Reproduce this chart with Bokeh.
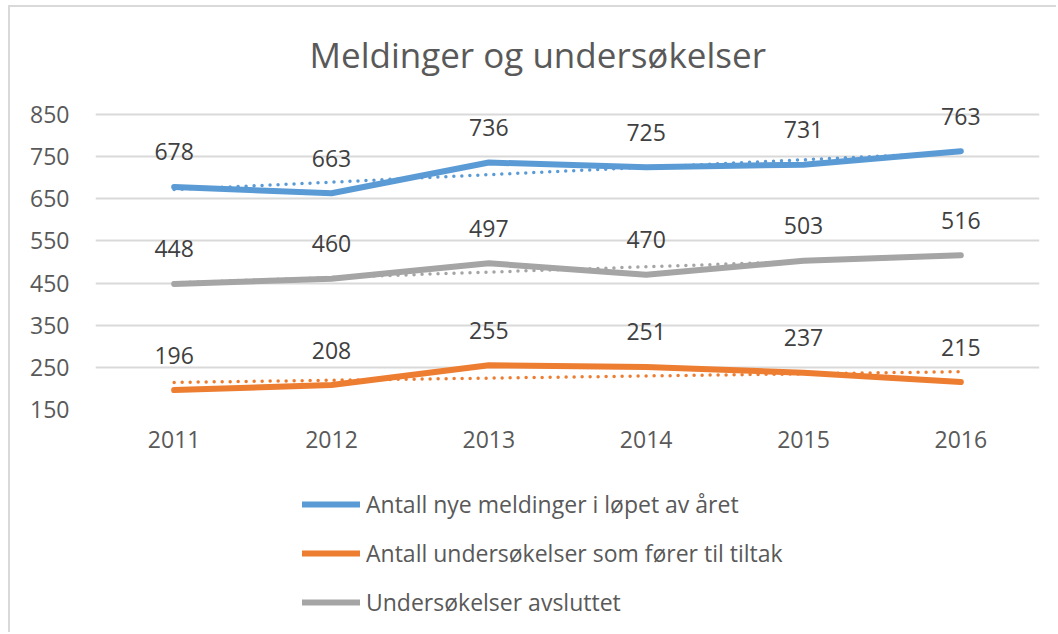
import numpy as np
from bokeh.plotting import figure
from bokeh.layouts import column
from bokeh.models import (ColumnDataSource, Range1d, FixedTicker, LabelSet,
                          Legend, LegendItem)
from bokeh.core.properties import value
from bokeh.embed import file_html
from bokeh.resources import INLINE

# ---- data ----
years = ["2011", "2012", "2013", "2014", "2015", "2016"]
meldinger = [678, 663, 736, 725, 731, 763]
tiltak = [196, 208, 255, 251, 237, 215]
avsluttet = [448, 460, 497, 470, 503, 516]
series_names = ["Antall nye meldinger i løpet av året",
                "Antall undersøkelser som fører til tiltak",
                "Undersøkelser avsluttet"]
y_ticks = [150, 250, 350, 450, 550, 650, 750, 850]
title_text = "Meldinger og undersøkelser"

colors = ["#5B9BD5", "#ED7D31", "#A5A5A5"]
FONT = "Open Sans"
TXT = "#595959"

# layout (pixels)
W = 1046
H1, H2 = 470, 155
frame_left, frame_right = 85, 1029
grid_top_px, frame_bottom = 107, 402      # pixel rows of the 850 and 150 gridlines
frame_top = 78                            # headroom so top data labels are not clipped
y0, y1 = y_ticks[0], y_ticks[-1]
units_per_px = (y1 - y0) / (frame_bottom - grid_top_px)
y_end = y1 + (grid_top_px - frame_top) * units_per_px

p = figure(x_range=years, y_range=Range1d(y0, y_end), width=W, height=H1,
           output_backend="svg", toolbar_location=None,
           min_border_left=frame_left, min_border_right=W - frame_right,
           min_border_top=frame_top, min_border_bottom=H1 - frame_bottom)
p.outline_line_color = None
p.background_fill_color = "white"
p.border_fill_color = "white"

p.title.text = title_text
p.title.text_font = FONT
p.title.text_font_size = "35px"
p.title.text_font_style = "normal"
p.title.text_color = TXT
p.title.align = "left"
p.title.offset = 214
p.title.standoff = 15

p.xgrid.grid_line_color = None
p.ygrid.grid_line_color = "#d9d9d9"
p.ygrid.grid_line_width = 2
p.yaxis.ticker = FixedTicker(ticks=y_ticks)

for ax in (p.xaxis[0], p.yaxis[0]):
    ax.axis_line_color = None
    ax.major_tick_line_color = None
    ax.minor_tick_line_color = None
    ax.major_tick_in = 0
    ax.major_tick_out = 0
    ax.major_label_text_font = FONT
    ax.major_label_text_font_size = "23px"
    ax.major_label_text_color = TXT
p.yaxis.major_label_standoff = 26
p.xaxis.major_label_standoff = 21

# legend strip below the chart (its frame is aligned with the chart frame)
pl = figure(width=W, height=H2, x_range=Range1d(0, 1), y_range=Range1d(0, 1),
            output_backend="svg", toolbar_location=None,
            x_axis_location=None, y_axis_location=None,
            min_border=0, min_border_left=0, min_border_right=0,
            min_border_top=0, min_border_bottom=0)
pl.outline_line_color = None
pl.xgrid.visible = False
pl.ygrid.visible = False
pl.border_fill_color = "white"

xidx = np.arange(len(years))
items = []
for name, vals, col in zip(series_names, [meldinger, tiltak, avsluttet], colors):
    # linear trend line (as in the original chart's trendlines)
    a, b = np.polyfit(xidx, np.array(vals, dtype=float), 1)
    trend = a * xidx + b
    p.line(years, trend, line_color=col, line_width=3.5, line_dash="0 8",
           line_cap="round")
    src = ColumnDataSource(dict(x=years, y=vals, t=[str(v) for v in vals]))
    p.line("x", "y", source=src, line_color=col, line_width=6,
           line_cap="round", line_join="round")
    p.add_layout(LabelSet(x="x", y="y", text="t", source=src, y_offset=35,
                          text_align="center", text_baseline="middle",
                          text_font=value(FONT), text_font_size="23px",
                          text_color="#404040"))
    # legend proxy line, lying outside the visible range of the legend strip
    lr = pl.line(x=[-2, -1], y=[-2, -2], line_color=col, line_width=6,
                 line_cap="round")
    items.append(LegendItem(label=name, renderers=[lr]))

legend = Legend(items=items, location=(207, 14), orientation="vertical",
                glyph_width=58, glyph_height=30, label_height=30,
                spacing=17, padding=0, margin=0, label_standoff=6,
                label_text_font=FONT, label_text_font_size="23px",
                label_text_color=TXT, border_line_color=None,
                background_fill_alpha=0)
pl.add_layout(legend, "center")

layout = column(p, pl, spacing=0)
layout.styles = {"margin-left": "8px", "margin-top": "5px",
                 "border-left": "2px solid #d9d9d9", "border-top": "2px solid #d9d9d9"}

open("out.html", "w").write(file_html(layout, INLINE))
